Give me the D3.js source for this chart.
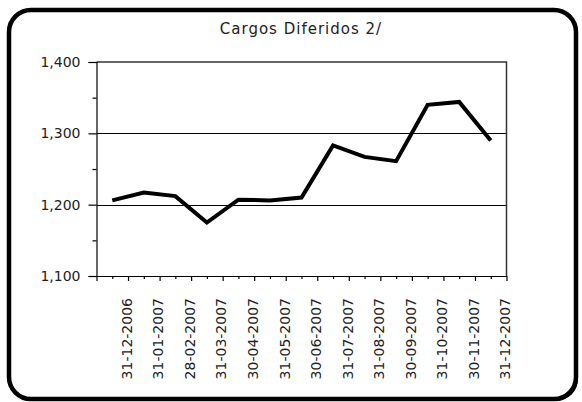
<!DOCTYPE html>
<html>
<head>
<meta charset="utf-8">
<script src="https://cdn.jsdelivr.net/npm/d3@7"></script>
<style>
  body { margin: 0; background: #fff; }
  svg { display: block; }
</style>
</head>
<body>
<div id="chart"></div>
<script>
const title = 'Cargos Diferidos 2/'
const dates = [
  '31-12-2006', '31-01-2007', '28-02-2007', '31-03-2007', '30-04-2007',
  '31-05-2007', '30-06-2007', '31-07-2007', '31-08-2007', '30-09-2007',
  '31-10-2007', '30-11-2007', '31-12-2007'
]
const values = [1206, 1217, 1212, 1175, 1207, 1206, 1210, 1283, 1267, 1261, 1340, 1344, 1290]
const yTicks = [1100, 1200, 1300, 1400]
const yMinorTicks = [1150, 1250, 1350]

const width = 582, height = 402
const plot = { left: 96.5, right: 506.5, top: 62, bottom: 276 }
const font = 'DejaVu Sans, Verdana, sans-serif'

const svg = d3.select('#chart').append('svg')
  .attr('width', width)
  .attr('height', height)

// marco con sombra
svg.append('rect')
  .attr('x', 11).attr('y', 12)
  .attr('width', 567).attr('height', 389)
  .attr('rx', 22).attr('ry', 22)
  .attr('fill', '#000')
svg.append('rect')
  .attr('x', 9).attr('y', 10)
  .attr('width', 567).attr('height', 389)
  .attr('rx', 22).attr('ry', 22)
  .attr('fill', '#fff')
  .attr('stroke', '#000')
  .attr('stroke-width', 4.5)

svg.append('text')
  .attr('x', 301)
  .attr('y', 34)
  .attr('text-anchor', 'middle')
  .style('font-family', font)
  .style('font-size', '15px')
  .style('letter-spacing', '1px')
  .attr('fill', '#222')
  .text(title)

// escalas
const xScale = d3.scaleLinear()
  .domain([0, dates.length])
  .range([plot.left, plot.right])
const yScale = d3.scaleLinear()
  .domain([d3.min(yTicks), d3.max(yTicks)])
  .range([plot.bottom, plot.top])

// lineas de cuadricula
svg.append('g')
  .selectAll('line')
  .data(yTicks.slice(1, -1))
  .enter()
  .append('line')
  .attr('x1', plot.left).attr('x2', plot.right)
  .attr('y1', d => Math.round(yScale(d)) + 0.5)
  .attr('y2', d => Math.round(yScale(d)) + 0.5)
  .attr('stroke', '#000')
  .attr('stroke-width', 1)

// borde superior y derecho del area
svg.append('path')
  .attr('d', `M${plot.left},${plot.top}H${plot.right}V${plot.bottom}`)
  .attr('fill', 'none')
  .attr('stroke', '#333')
  .attr('stroke-width', 1.5)

// eje y
const yAxis = svg.append('g')
  .attr('transform', 'translate(' + plot.left + ',0)')
  .call(d3.axisLeft(yScale)
    .tickValues(yTicks)
    .tickSize(8)
    .tickPadding(8)
    .tickFormat(d3.format(',')))
svg.append('g')
  .attr('transform', 'translate(' + plot.left + ',0)')
  .call(d3.axisLeft(yScale)
    .tickValues(yMinorTicks)
    .tickSize(4)
    .tickFormat(''))
  .select('.domain').remove()

// eje x
svg.append('g')
  .attr('transform', 'translate(0,' + plot.bottom + ')')
  .call(d3.axisBottom(xScale)
    .tickValues(d3.range(dates.length + 1))
    .tickSizeInner(5)
    .tickSizeOuter(0)
    .tickFormat(''))
svg.append('g')
  .attr('transform', 'translate(0,' + plot.bottom + ')')
  .call(d3.axisBottom(xScale)
    .tickValues(d3.range(dates.length).map(i => i + 0.5))
    .tickSize(3)
    .tickFormat(''))
  .select('.domain').remove()

svg.selectAll('.domain, .tick line')
  .attr('stroke', '#000')
  .attr('stroke-width', 1.2)
yAxis.selectAll('text')
  .style('font-family', font)
  .style('font-size', '14px')
  .attr('fill', '#222')

svg.append('g')
  .selectAll('text')
  .data(dates)
  .enter()
  .append('text')
  .attr('transform', (d, i) => 'translate(' + (xScale(i + 0.5) + 14.5) + ',298) rotate(-90)')
  .attr('text-anchor', 'end')
  .attr('dy', '0.36em')
  .style('font-family', font)
  .style('font-size', '14px')
  .attr('fill', '#222')
  .text(d => d)

// serie
const linePath = d3.line()
  .x((d, i) => xScale(i + 0.5))
  .y(d => yScale(d))
svg.append('path')
  .attr('d', linePath(values))
  .attr('fill', 'none')
  .attr('stroke', '#000')
  .attr('stroke-width', 4)
  .attr('stroke-linejoin', 'miter')
</script>
</body>
</html>
